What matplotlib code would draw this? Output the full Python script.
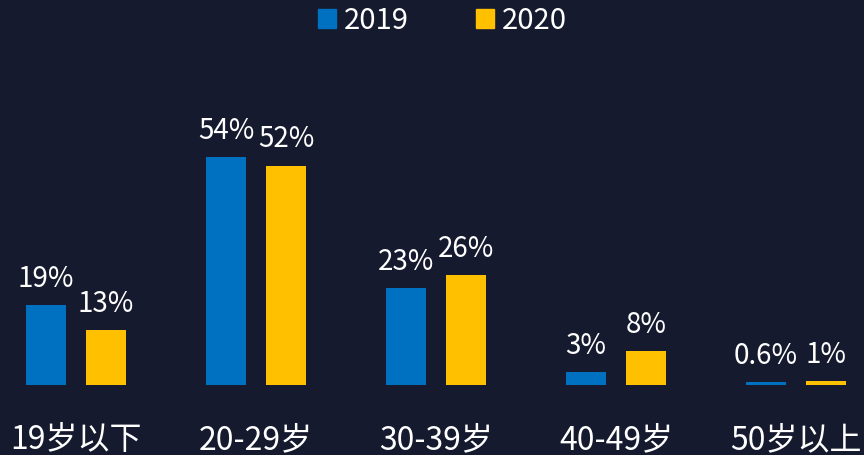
import numpy as np
import matplotlib
matplotlib.use("Agg")
import matplotlib.pyplot as plt
from matplotlib.patches import Patch

plt.rcParams['font.family'] = ['Noto Sans CJK SC', 'DejaVu Sans']

categories = ['19岁以下', '20-29岁', '30-39岁', '40-49岁', '50岁以上']
v2019 = [19, 54, 23, 3, 0.6]
v2020 = [13, 52, 26, 8, 1]
lab2019 = ['19%', '54%', '23%', '3%', '0.6%']
lab2020 = ['13%', '52%', '26%', '8%', '1%']

bg = '#151a2e'
blue = '#0070c0'
yellow = '#ffc000'

fig = plt.figure(figsize=(8.64, 4.55), dpi=100, facecolor=bg)
ax = fig.add_axes([0, 70 / 455, 1, 385 / 455])
ax.set_facecolor(bg)

x = np.arange(len(categories))
w = 40 / 180
off = 30 / 180
b1 = ax.bar(x - off, v2019, w, color=blue)
b2 = ax.bar(x + off, v2020, w, color=yellow)

for bars, labs in [(b1, lab2019), (b2, lab2020)]:
    for b, t in zip(bars, labs):
        ax.annotate(t, (b.get_x() + b.get_width() / 2, b.get_height()),
                    xytext=(0, 8), textcoords='offset points',
                    ha='center', va='bottom', color='white', fontsize=20)

ax.set_xlim(-76 / 180, (864 - 76) / 180)
ax.set_ylim(0, 385 / 4.22)
ax.set_xticks(x)
ax.set_xticklabels(categories, color='white', fontsize=23)
ax.tick_params(axis='x', length=0, pad=28)
ax.set_yticks([])
for s in ax.spines.values():
    s.set_visible(False)

handles = [Patch(color=blue, label='2019'), Patch(color=yellow, label='2020')]
fig.legend(handles=handles, loc='upper center', bbox_to_anchor=(0.512, 1.045),
           ncol=2, frameon=False, fontsize=21, labelcolor='white',
           handlelength=0.62, handleheight=0.62, handletextpad=0.27,
           columnspacing=2.3)

fig.savefig('out.png', dpi=100, facecolor=bg)
